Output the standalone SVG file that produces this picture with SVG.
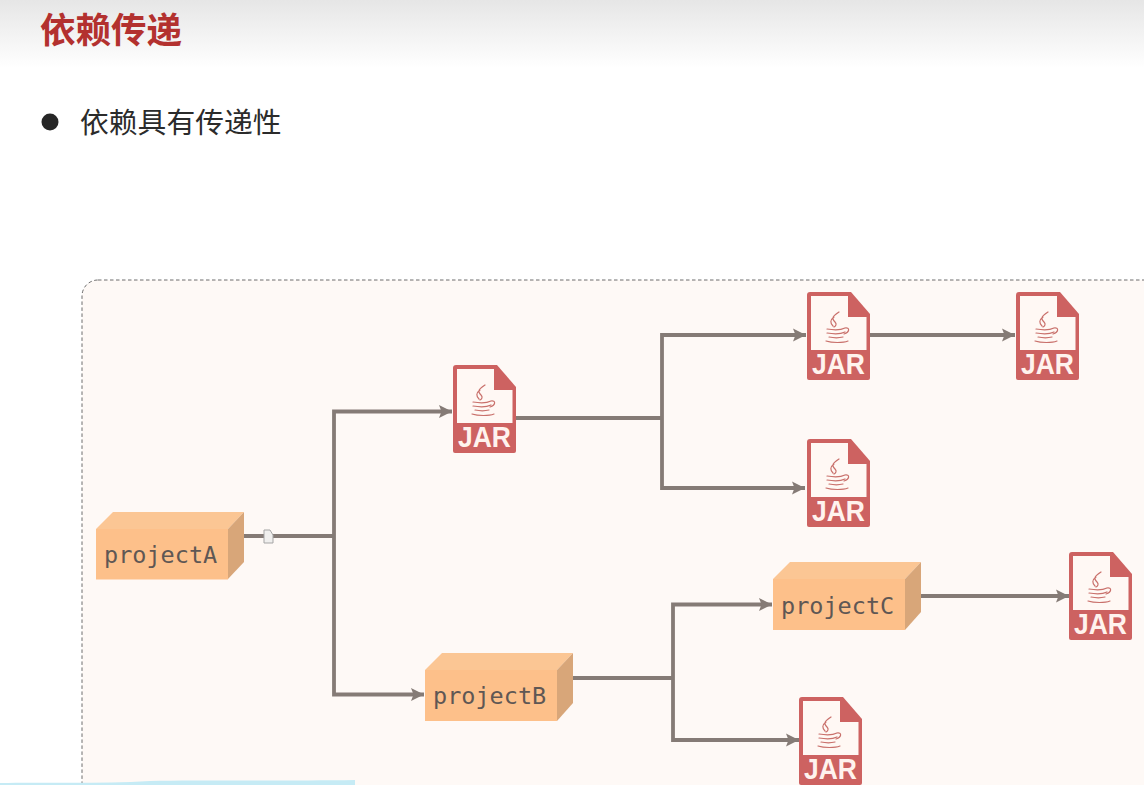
<svg xmlns="http://www.w3.org/2000/svg" width="1144" height="785" viewBox="0 0 1144 785">
<style>
.conn{fill:none;stroke:#857b76;stroke-width:3.8}
.cjk{font-family:"Noto Sans CJK SC","Liberation Sans",sans-serif}
.lab{font-family:"DejaVu Sans Mono","Liberation Mono",monospace;font-size:23.500px;fill:#5f5754}
.jar{font-family:"Liberation Sans",Arial,sans-serif;font-weight:700;font-size:30px;fill:#fff3ee;text-anchor:middle}
.cup{fill:none;stroke:#c9706b;stroke-width:1.2;stroke-linecap:round}
.top{fill:#fbc694}
.side{fill:#d8a679}
.front{fill:#fdc08a}
</style>
<defs>
<linearGradient id="hdr" x1="0" y1="0" x2="0" y2="1"><stop offset="0" stop-color="#e6e6e6"/><stop offset="1" stop-color="#ffffff"/></linearGradient>
<marker id="arr" markerUnits="userSpaceOnUse" markerWidth="15" markerHeight="14" refX="13" refY="7" orient="auto"><path d="M0,0.500 L13,7 L0,13.500 L2.500,7z" fill="#857b76"/></marker>
<g id="jarIcon">
<path d="M3,0 H44 L63,22 V86 a2,2 0 0 1 -2,2 H2 a2,2 0 0 1 -2,-2 V3 a3,3 0 0 1 3,-3z" fill="#cd6261"/>
<path d="M4,4 H41 V25 H59.500 V58 H4z" fill="#fff8f4"/>
<path class="cup" d="M32,20 c-6,4 -8,6 -4,10 c2,2 1,4 -1,5 M27,25 c-4,3 -4,6 -1,9 M20,37 c6,1 14,1 18,-1 M20,41 c6,1 14,1 18,-1 M38,36 c5,-1 5,4 -1,6 M22,45 c5,1 10,1 14,0 M19,49 c6,2 17,2 22,0"/>
<text class="jar" x="31.500" y="82" textLength="53" lengthAdjust="spacingAndGlyphs">JAR</text>
</g>
</defs>
<rect width="1144" height="785" fill="#ffffff"/>
<rect id="header" width="1144" height="68" fill="url(#hdr)"/>
<text id="title" class="cjk" x="40" y="43" font-size="35.500" font-weight="700" fill="#b3312f">依赖传递</text>
<circle id="bullet" cx="50" cy="122" r="8.500" fill="#262626"/>
<text id="subtitle" class="cjk" x="80" y="133" font-size="28.800" fill="#2b2b2b">依赖具有传递性</text>
<rect id="panel" x="82" y="280" width="1100" height="530" rx="16" fill="#fef9f6" stroke="#6d6d6d" stroke-width="1" stroke-dasharray="3.500 2.500"/>
<path id="smear" d="M0,785 V783 C40,782 100,784 150,781 C200,780 300,781 355,780 V785z" fill="#c6ebf5"/>
<g id="connectors">
<path class="conn" d="M244,536 H334"/>
<path class="conn" marker-end="url(#arr)" d="M334,536 V411.500 H452"/>
<path class="conn" marker-end="url(#arr)" d="M334,536 V694.500 H424"/>
<path class="conn" d="M516,418 H662"/>
<path class="conn" marker-end="url(#arr)" d="M662,418 V335 H806"/>
<path class="conn" marker-end="url(#arr)" d="M662,418 V488 H805"/>
<path class="conn" marker-end="url(#arr)" d="M870,335 H1015"/>
<path class="conn" d="M573,678 H673"/>
<path class="conn" marker-end="url(#arr)" d="M673,678 V604.500 H772"/>
<path class="conn" marker-end="url(#arr)" d="M673,678 V740 H799"/>
<path class="conn" marker-end="url(#arr)" d="M921,596 H1069"/>
</g>
<g id="cursor"><path d="M264,530 h6 l3,5 v8 h-9z" fill="#f0efee" stroke="#a5a5a5" stroke-width="1"/></g>
<g id="projectA">
<path class="top" d="M96,529 L113,512 H244 L228,529z"/>
<path class="side" d="M228,529 L244,512 V562 L228,579z"/>
<rect class="front" x="96" y="529" width="132" height="50.500"/>
<text class="lab" x="104" y="563">projectA</text>
</g>
<g id="projectB">
<path class="top" d="M425,670 L442,653 H573 L557,670z"/>
<path class="side" d="M557,670 L573,653 V703 L557,721z"/>
<rect class="front" x="425" y="670" width="132" height="51"/>
<text class="lab" x="433" y="704">projectB</text>
</g>
<g id="projectC">
<path class="top" d="M773,579 L790,562 H921 L905,579z"/>
<path class="side" d="M905,579 L921,562 V612 L905,630z"/>
<rect class="front" x="773" y="579" width="132" height="51"/>
<text class="lab" x="781" y="614">projectC</text>
</g>
<g id="jar1"><use href="#jarIcon" x="453" y="365"/></g>
<g id="jar2"><use href="#jarIcon" x="807" y="292"/></g>
<g id="jar3"><use href="#jarIcon" x="1016" y="292"/></g>
<g id="jar4"><use href="#jarIcon" x="807" y="439"/></g>
<g id="jar5"><use href="#jarIcon" x="1069" y="552"/></g>
<g id="jar6"><use href="#jarIcon" x="799" y="697"/></g>
</svg>
